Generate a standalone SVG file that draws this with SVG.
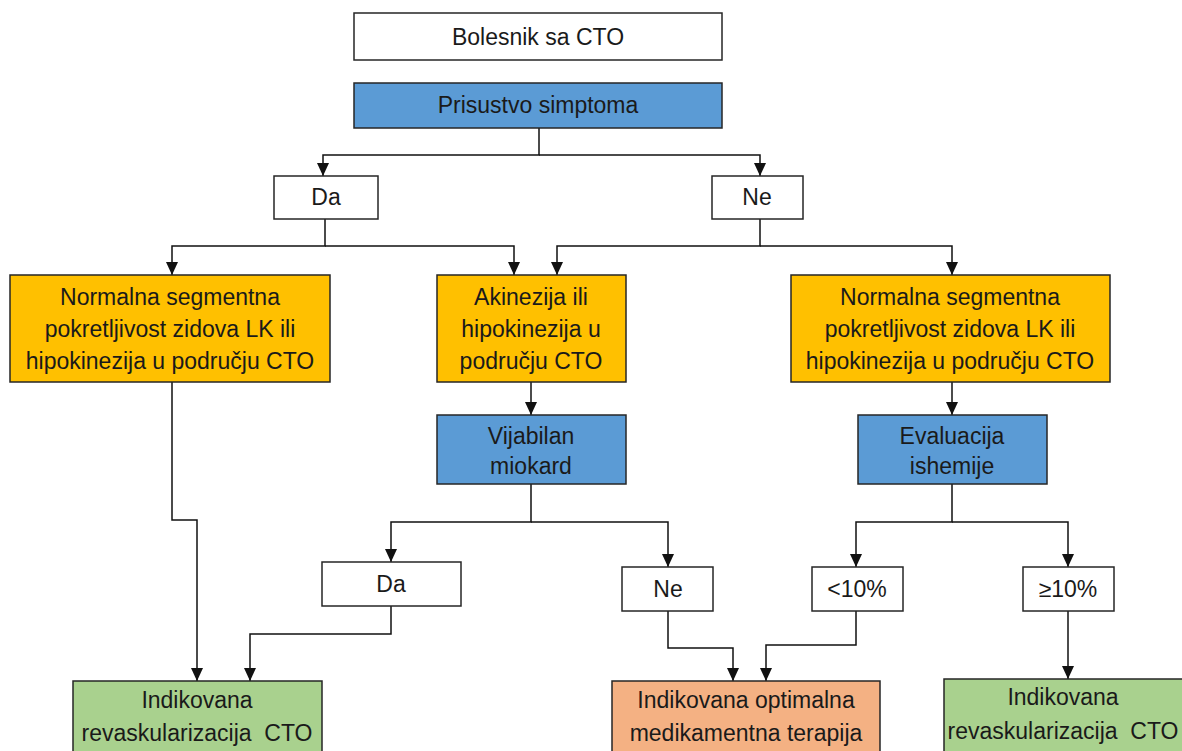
<svg xmlns="http://www.w3.org/2000/svg" width="1182" height="751" viewBox="0 0 1182 751">
<defs>
<marker id="ah" markerWidth="14" markerHeight="12" refX="13" refY="6" orient="auto" markerUnits="userSpaceOnUse" viewBox="0 0 14 12">
<path d="M0,0 L13,6 L0,12 Z" fill="#111"/>
</marker>
<style>
.box{stroke:#262626;stroke-width:1.5}
.w{fill:#ffffff}
.b{fill:#5b9bd5}
.y{fill:#ffc000}
.g{fill:#a9d18e}
.o{fill:#f4b183}
text{font-family:"Liberation Sans","Noto Sans",sans-serif;font-size:23px;fill:#1a1a1a;text-anchor:middle}
.c path{fill:none;stroke:#111;stroke-width:1.5}
</style>
</defs>
<rect width="1182" height="751" fill="#ffffff"/>
<g class="c" id="connectors">
<path d="M539,128 V155 H323 V176" marker-end="url(#ah)"/>
<path d="M539,155 H760 V176" marker-end="url(#ah)"/>
<path d="M325,219 V246 H172 V275" marker-end="url(#ah)"/>
<path d="M325,246 H514 V275" marker-end="url(#ah)"/>
<path d="M760,219 V246 H557 V275" marker-end="url(#ah)"/>
<path d="M760,246 H952 V275" marker-end="url(#ah)"/>
<path d="M172,382 V520 H197 V681" marker-end="url(#ah)"/>
<path d="M531,382 V415" marker-end="url(#ah)"/>
<path d="M952,382 V415" marker-end="url(#ah)"/>
<path d="M531,484 V522 H391 V562" marker-end="url(#ah)"/>
<path d="M531,522 H668 V567" marker-end="url(#ah)"/>
<path d="M952,484 V522 H856 V567" marker-end="url(#ah)"/>
<path d="M952,522 H1068 V567" marker-end="url(#ah)"/>
<path d="M391,606 V634 H250 V681" marker-end="url(#ah)"/>
<path d="M668,611 V648 H733 V681" marker-end="url(#ah)"/>
<path d="M856,611 V645 H766 V681" marker-end="url(#ah)"/>
<path d="M1068,611 V679" marker-end="url(#ah)"/>
</g>
<g id="n-bolesnik"><rect class="box w" x="354" y="13" width="368" height="47"/><text x="538" y="45">Bolesnik sa CTO</text></g>
<g id="n-prisustvo"><rect class="box b" x="354" y="83" width="368" height="45"/><text x="538" y="113">Prisustvo simptoma</text></g>
<g id="n-da1"><rect class="box w" x="274" y="176" width="104" height="43"/><text x="326" y="205">Da</text></g>
<g id="n-ne1"><rect class="box w" x="712" y="176" width="91" height="43"/><text x="757" y="205">Ne</text></g>
<g id="n-left-yellow"><rect class="box y" x="10" y="275" width="320" height="107"/><text x="170" y="305">Normalna segmentna</text><text x="170" y="337">pokretljivost zidova LK ili</text><text x="170" y="369">hipokinezija u području CTO</text></g>
<g id="n-akinezija"><rect class="box y" x="437" y="275" width="189" height="107"/><text x="531" y="305">Akinezija ili</text><text x="531" y="337">hipokinezija u</text><text x="531" y="369">području CTO</text></g>
<g id="n-right-yellow"><rect class="box y" x="791" y="275" width="319" height="107"/><text x="950" y="305">Normalna segmentna</text><text x="950" y="337">pokretljivost zidova LK ili</text><text x="950" y="369">hipokinezija u području CTO</text></g>
<g id="n-vijabilan"><rect class="box b" x="437" y="415" width="189" height="69"/><text x="531" y="444">Vijabilan</text><text x="531" y="474">miokard</text></g>
<g id="n-evaluacija"><rect class="box b" x="858" y="415" width="189" height="69"/><text x="952" y="444">Evaluacija</text><text x="952" y="474">ishemije</text></g>
<g id="n-da2"><rect class="box w" x="322" y="562" width="139" height="44"/><text x="391" y="592">Da</text></g>
<g id="n-ne2"><rect class="box w" x="622" y="567" width="91" height="44"/><text x="668" y="597">Ne</text></g>
<g id="n-lt10"><rect class="box w" x="812" y="567" width="91" height="44"/><text x="857" y="597">&lt;10%</text></g>
<g id="n-ge10"><rect class="box w" x="1023" y="567" width="91" height="44"/><text x="1068" y="597">≥10%</text></g>
<g id="n-green-left"><rect class="box g" x="73" y="681" width="249" height="80"/><text x="197" y="708">Indikovana</text><text x="197" y="741">revaskularizacija&#160; CTO</text></g>
<g id="n-orange"><rect class="box o" x="612" y="681" width="268" height="80"/><text x="746" y="708">Indikovana optimalna</text><text x="746" y="741">medikamentna terapija</text></g>
<g id="n-green-right"><rect class="box g" x="944" y="679" width="250" height="82"/><text x="1063" y="705">Indikovana</text><text x="1063" y="739">revaskularizacija&#160; CTO</text></g>
</svg>
